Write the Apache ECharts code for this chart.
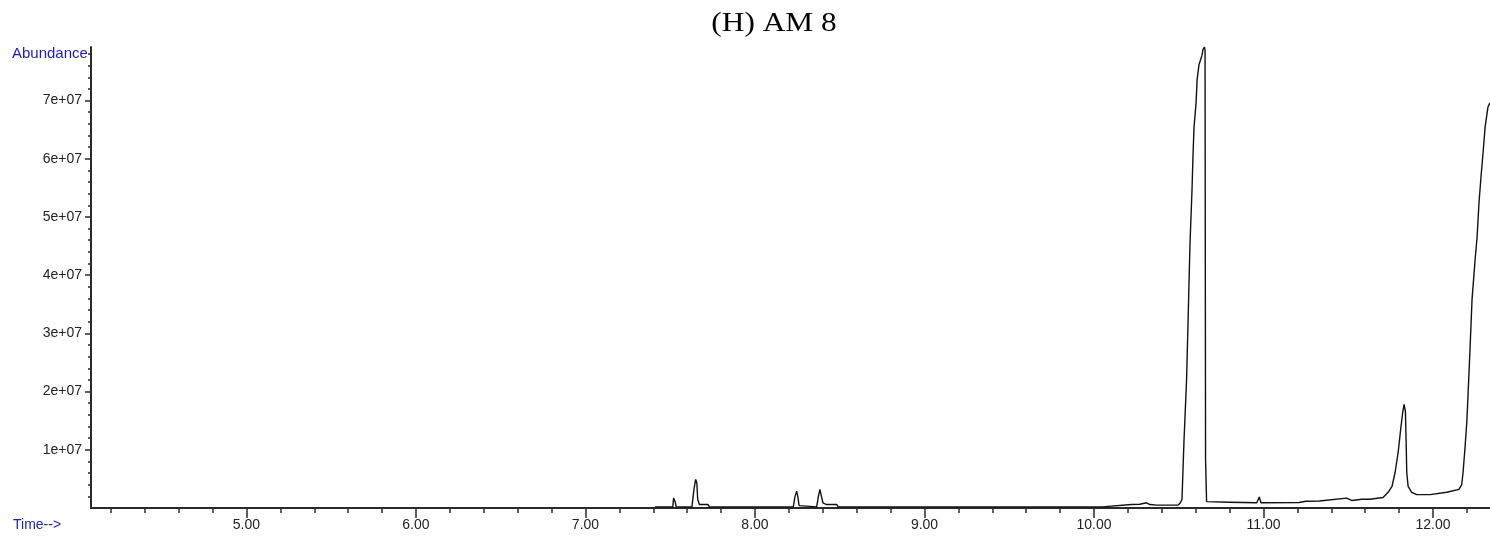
<!DOCTYPE html>
<html>
<head>
<meta charset="utf-8">
<title>(H) AM 8</title>
<script src="https://cdn.jsdelivr.net/npm/echarts@6/dist/echarts.min.js"></script>
<style>
  html, body { margin: 0; padding: 0; background: #ffffff; }
  #chart { width: 1490px; height: 539px; }
</style>
</head>
<body>
<div id="chart"></div>
<script>
// Retention time (min) of each recorded point
const retentionTime = [
  7.410, 7.515, 7.520, 7.524, 7.530, 7.535,
  7.628, 7.640, 7.650, 7.657, 7.662, 7.672, 7.722, 7.732,
  8.226, 8.236, 8.246, 8.254, 8.260, 8.268,
  8.364, 8.374, 8.383, 8.392, 8.401, 8.420, 8.482, 8.491,
  9.775, 9.780, 9.786,
  10.050, 10.056, 10.220, 10.270, 10.310, 10.330, 10.370, 10.496,
  10.510, 10.519, 10.531, 10.546, 10.555, 10.566, 10.578, 10.584, 10.590,
  10.602, 10.608, 10.619, 10.637, 10.643, 10.652, 10.655, 10.658, 10.664,
  10.800, 10.810, 10.960, 10.975, 10.985, 11.210, 11.250, 11.330,
  11.490, 11.520, 11.580, 11.628, 11.705, 11.735, 11.758, 11.776,
  11.794, 11.809, 11.821, 11.829, 11.837, 11.841, 11.845, 11.853,
  11.874, 11.904, 11.982, 12.081, 12.153, 12.169, 12.177, 12.189,
  12.199, 12.206, 12.218, 12.230, 12.248, 12.260, 12.271, 12.283,
  12.295, 12.307, 12.324, 12.336
];

// Abundance at each point, in millions of counts
const abundanceMillions = [
  0.2, 0.2, 1.7, 2.0, 1.0, 0.2,
  0.2, 3.2, 4.9, 4.3, 1.5, 0.6, 0.6, 0.2,
  0.2, 2.0, 2.9, 1.75, 0.4, 0.3,
  0.2, 2.0, 3.2, 2.0, 0.9, 0.6, 0.6, 0.2,
  0.2, 0.5, 0.2,
  0.2, 0.45, 0.6, 0.65, 0.9, 0.6, 0.5, 0.5,
  0.9, 1.5, 11.7, 22.0, 32.3, 45.2, 54.6, 60.6, 65.4,
  69.6, 73.5, 76.1, 77.8, 78.8, 79.2, 78.6, 8.3, 1.1,
  1.0, 0.9, 0.9, 1.9, 0.9, 0.95, 1.15, 1.2,
  1.7, 1.3, 1.5, 1.5, 1.8, 2.7, 3.7, 6.1,
  9.5, 13.5, 16.4, 17.8, 16.6, 11.7, 6.1, 3.7,
  2.7, 2.3, 2.3, 2.7, 3.2, 4.0, 6.1, 10.5,
  14.7, 19.1, 27.2, 35.8, 42.6, 46.6, 52.4, 56.9,
  61.0, 65.4, 68.9, 69.6
];

// Time axis: labelled ticks and the minor tick marks between them
const timeMajorTicks = [5, 6, 7, 8, 9, 10, 11, 12];
const timeTickLabels = ['5.00', '6.00', '7.00', '8.00', '9.00', '10.00', '11.00', '12.00'];
const timeMinorTicks = [4.2, 4.4, 4.6, 4.8, 5.0, 5.2, 5.4, 5.6, 5.8, 6.0, 6.2, 6.4, 6.6, 6.8,
  7.0, 7.2, 7.4, 7.6, 7.8, 8.0, 8.2, 8.4, 8.6, 8.8, 9.0, 9.2, 9.4, 9.6, 9.8,
  10.0, 10.2, 10.4, 10.6, 10.8, 11.0, 11.2, 11.4, 11.6, 11.8, 12.0, 12.2];

// Abundance axis: labelled ticks and minor tick marks
const abundanceMajorTicks = [1e7, 2e7, 3e7, 4e7, 5e7, 6e7, 7e7];
const abundanceTickLabels = ['1e+07', '2e+07', '3e+07', '4e+07', '5e+07', '6e+07', '7e+07'];
const abundanceMinorTicks = [];
for (let v = 2e6; v <= 78e6; v += 2e6) abundanceMinorTicks.push(v);

const timeRange = [4.083, 12.336];
const abundanceRange = [0, 7.92e7];

const points = retentionTime.map((t, i) => [t, abundanceMillions[i] * 1e6]);

const timeLabelMap = {};
timeMajorTicks.forEach((v, i) => { timeLabelMap[v.toFixed(2)] = timeTickLabels[i]; });
const abundanceLabelMap = {};
abundanceMajorTicks.forEach((v, i) => { abundanceLabelMap[String(v)] = abundanceTickLabels[i]; });

const axisColor = '#2a2a2a';
const labelFont = '"Liberation Sans", Arial, sans-serif';
const blue = '#1f1fa0';

const chart = echarts.init(document.getElementById('chart'), null, { renderer: 'canvas' });

chart.setOption({
  animation: false,
  backgroundColor: '#ffffff',
  grid: { left: 91, right: 0, top: 47, bottom: 31, containLabel: false },
  xAxis: [
    {
      type: 'value',
      min: timeRange[0],
      max: timeRange[1],
      position: 'bottom',
      axisLine: { show: true, onZero: false, lineStyle: { color: axisColor, width: 2 } },
      axisTick: { show: true, customValues: timeMajorTicks, length: 10, inside: false,
                  lineStyle: { color: axisColor, width: 1.5 } },
      axisLabel: {
        show: true, customValues: timeMajorTicks, margin: 10,
        color: '#222', fontSize: 14, fontFamily: labelFont,
        formatter: v => timeLabelMap[Number(v).toFixed(2)] || ''
      },
      splitLine: { show: false }
    },
    {
      type: 'value',
      min: timeRange[0],
      max: timeRange[1],
      position: 'bottom',
      axisLine: { show: false, onZero: false },
      axisTick: { show: true, customValues: timeMinorTicks, length: 5,
                  lineStyle: { color: axisColor, width: 1.5 } },
      axisLabel: { show: false },
      splitLine: { show: false }
    }
  ],
  yAxis: [
    {
      type: 'value',
      min: abundanceRange[0],
      max: abundanceRange[1],
      position: 'left',
      axisLine: { show: true, onZero: false, lineStyle: { color: axisColor, width: 2 } },
      axisTick: { show: true, customValues: abundanceMajorTicks, length: 6,
                  lineStyle: { color: axisColor, width: 1.5 } },
      axisLabel: {
        show: true, customValues: abundanceMajorTicks, margin: 9,
        color: '#222', fontSize: 14, fontFamily: labelFont,
        formatter: v => abundanceLabelMap[String(v)] || ''
      },
      splitLine: { show: false }
    },
    {
      type: 'value',
      min: abundanceRange[0],
      max: abundanceRange[1],
      position: 'left',
      axisLine: { show: false, onZero: false },
      axisTick: { show: true, customValues: abundanceMinorTicks, length: 3,
                  lineStyle: { color: axisColor, width: 1.5 } },
      axisLabel: { show: false },
      splitLine: { show: false }
    }
  ],
  series: [
    {
      type: 'line',
      xAxisIndex: 0,
      yAxisIndex: 0,
      data: points,
      showSymbol: false,
      symbol: 'none',
      smooth: false,
      clip: true,
      lineStyle: { color: '#111111', width: 1.4 }
    }
  ],
  graphic: [
    {
      type: 'text',
      x: 774, y: 24,
      scaleX: 1.16,
      originX: 0, originY: 0,
      style: {
        text: '(H) AM 8',
        font: '27px "Liberation Serif", "Times New Roman", serif',
        fill: '#000',
        textAlign: 'center',
        textVerticalAlign: 'middle'
      }
    },
    {
      type: 'text',
      x: 12, y: 54,
      style: {
        text: 'Abundance',
        font: '15px "Liberation Sans", Arial, sans-serif',
        fill: blue,
        textAlign: 'left',
        textVerticalAlign: 'middle'
      }
    },
    {
      type: 'text',
      x: 13, y: 525,
      style: {
        text: 'Time-->',
        font: '14px "Liberation Sans", Arial, sans-serif',
        fill: blue,
        textAlign: 'left',
        textVerticalAlign: 'middle'
      }
    }
  ]
});
</script>
</body>
</html>
